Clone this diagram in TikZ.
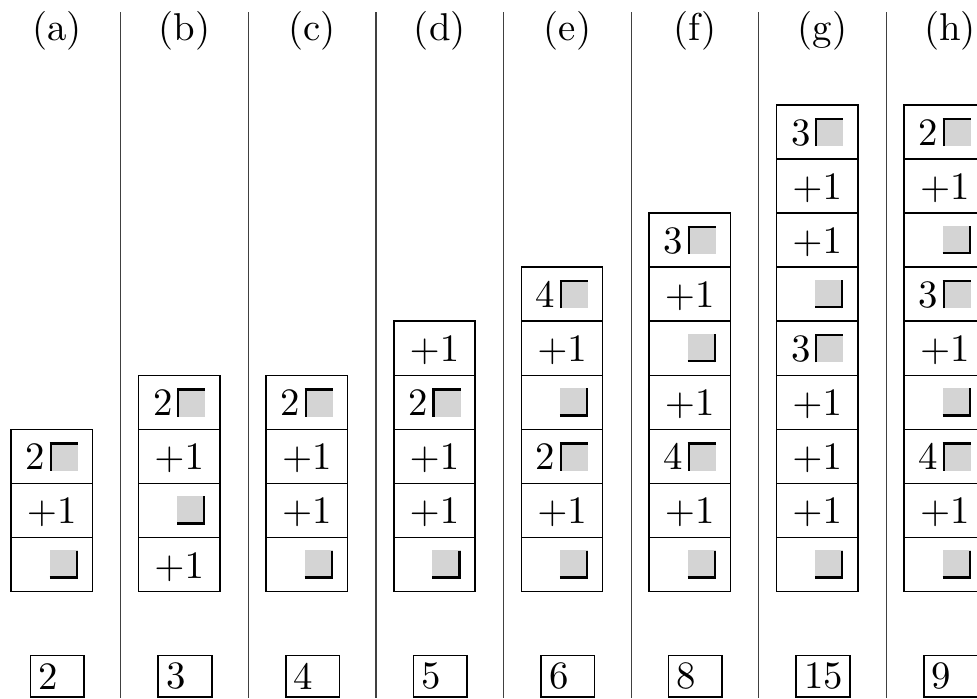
\documentclass[tikz,border=0pt]{standalone}
\usepackage{xcolor}
\usepackage{tikz}
\definecolor{sqgray}{RGB}{212,212,212}
% grey square with a bar on top/left (opening) or right/bottom (closing)
\newcommand{\tlsq}[1]{#1\kern1.2pt\makebox[7.3pt][l]{\rlap{\textcolor{sqgray}{\rule[-0.2pt]{7.3pt}{7.3pt}}}\rlap{\rule[-0.2pt]{0.6pt}{7.3pt}}\rlap{\rule[6.5pt]{7.3pt}{0.6pt}}}}
\newcommand{\brsq}{\phantom{2}\kern1.2pt\makebox[7.3pt][l]{\rlap{\textcolor{sqgray}{\rule[-0.2pt]{7.3pt}{7.3pt}}}\rlap{\kern6.7pt\rule[-0.2pt]{0.6pt}{7.3pt}}\rlap{\rule[-0.2pt]{7.3pt}{0.6pt}}}}
\newcommand{\pone}{$+1$}

\begin{document}
\begin{tikzpicture}[
    x=0.2577pt, y=-0.2577pt,
    cell/.style={draw, line width=0.4pt, inner sep=0pt, outer sep=0pt,
                 minimum width=20.95pt, minimum height=13.94pt,
                 text height=7.1pt, text depth=0.2pt},
    numbox/.style={draw, line width=0.4pt, inner xsep=2.1pt, inner ysep=0pt,
                   minimum height=10.65pt},
    lab/.style={anchor=base},
    sepline/.style={line width=0.3pt, black!75},
]
    \useasboundingbox (0,0) rectangle (977,698);
    % one column per case: label / total / cells from the bottom up
    \foreach \lab/\tot/\cells [count=\i] in {
        a/2/{\brsq,\pone,\tlsq{2}},
        b/3/{\pone,\brsq,\pone,\tlsq{2}},
        c/4/{\brsq,\pone,\pone,\tlsq{2}},
        d/5/{\brsq,\pone,\pone,\tlsq{2},\pone},
        e/6/{\brsq,\pone,\tlsq{2},\brsq,\pone,\tlsq{4}},
        f/8/{\brsq,\pone,\tlsq{4},\pone,\brsq,\pone,\tlsq{3}},
        g/15/{\brsq,\pone,\pone,\pone,\tlsq{3},\brsq,\pone,\pone,\tlsq{3}},
        h/9/{\brsq,\pone,\tlsq{4},\brsq,\pone,\tlsq{3},\brsq,\pone,\tlsq{2}}%
    }{
        \pgfmathsetmacro{\cx}{57+127.6*(\i-1)}
        \node[lab] (lab-\lab) at (\cx,40.3) {(\lab)};
        \foreach \cnt [count=\j] in \cells
            \node[cell] (\lab-\j) at (\cx-5.35,618.75-54.1*\j) {\cnt};
        \node[numbox] (tot-\lab) at (\cx+0.35,676.3) {\makebox[9.6pt][l]{\tot}};
        \ifnum\i<8 \draw[sepline] (\cx+63.8,12) -- (\cx+63.8,698); \fi
    }
\end{tikzpicture}
\end{document}
